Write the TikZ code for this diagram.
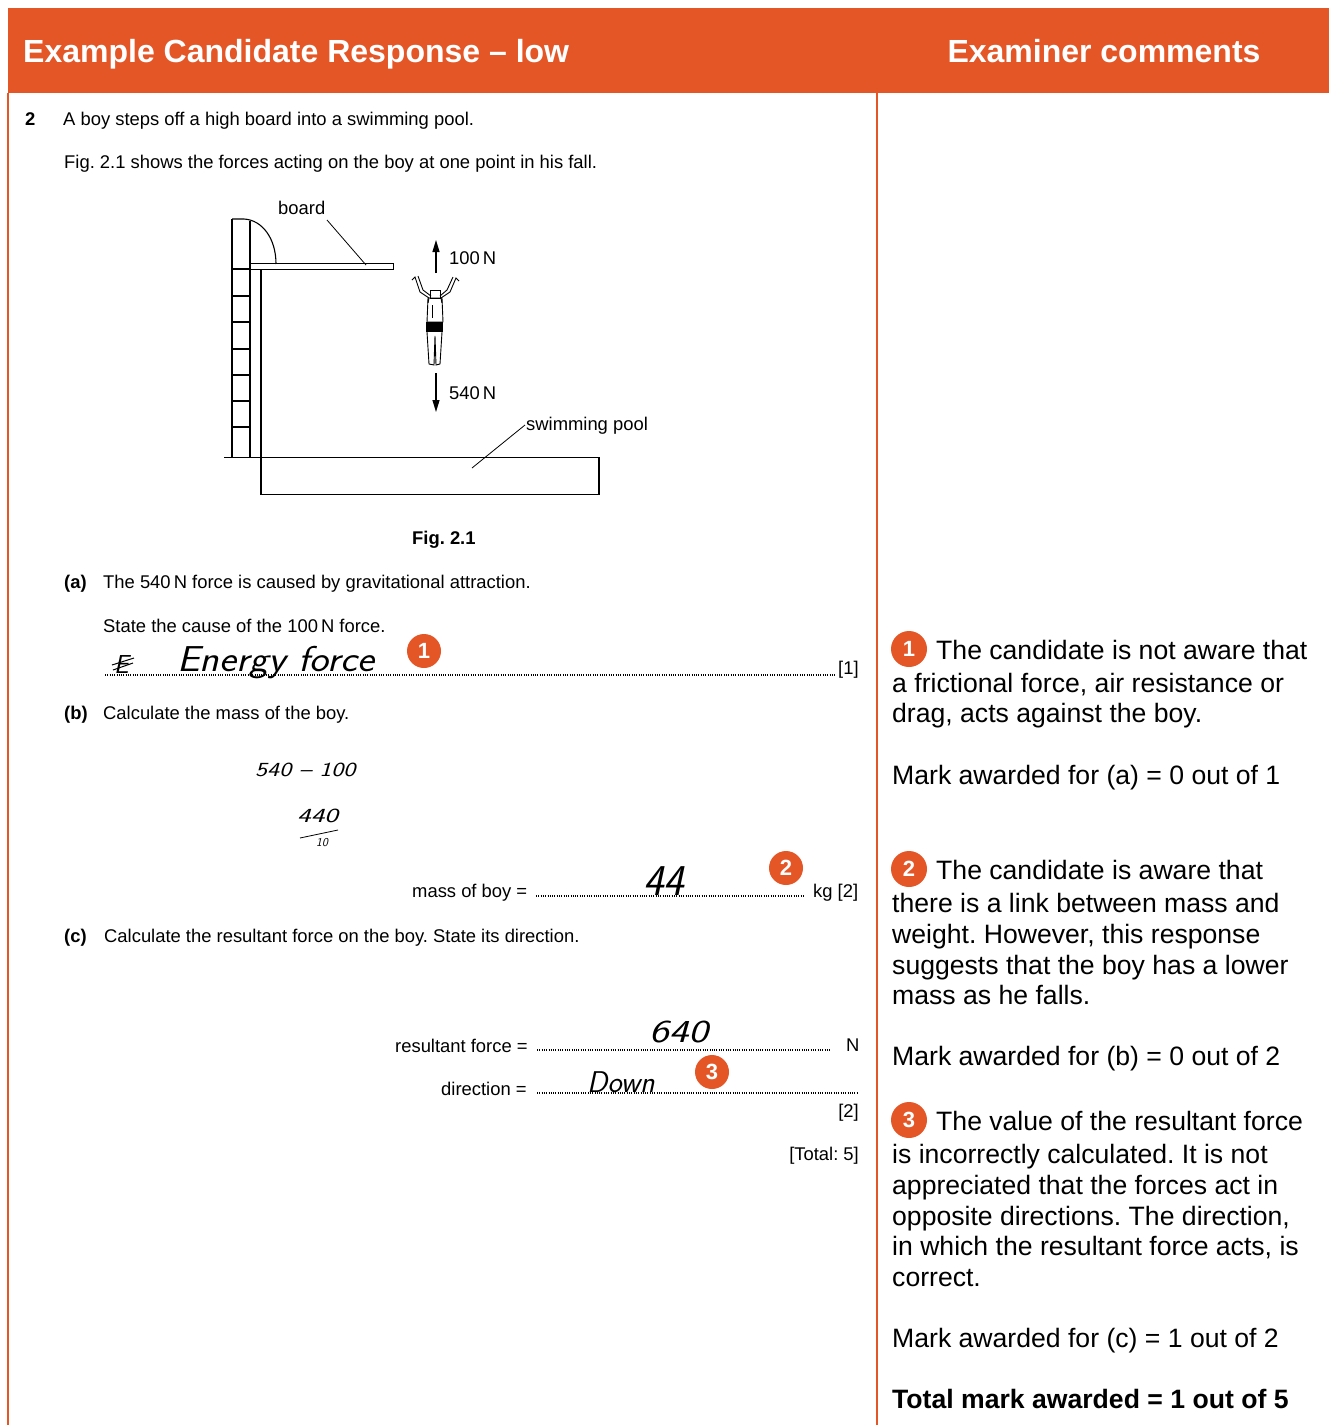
\documentclass[tikz,border=0pt]{standalone}
\usepackage{fontspec}
\setmainfont{Liberation Sans}
\newfontfamily\examfont{Liberation Sans}
\usetikzlibrary{arrows.meta}
\definecolor{cieorange}{RGB}{229,86,39}
\frenchspacing
\begin{document}
\frenchspacing
\begin{tikzpicture}[x=1pt,y=-1pt,
  hdrtext/.style={font=\fontsize{32}{36}\selectfont\bfseries, text=white, inner sep=0, anchor=base west},
  cmt/.style={font=\fontsize{26.6}{30}\selectfont, anchor=base west, inner sep=0},
  exnorm/.style={font=\examfont\fontsize{18.4}{21}\selectfont, anchor=base west, inner sep=0},
  exbold/.style={font=\examfont\bfseries\fontsize{18.4}{21}\selectfont, anchor=base west, inner sep=0},
  hwr/.style={font=\sffamily\itshape\fontsize{#1}{#1}\selectfont, anchor=base west, inner sep=0},
  badge/.style={circle, fill=cieorange, text=white, font=\bfseries\fontsize{22}{22}\selectfont, minimum size=#1, inner sep=0},
  badge/.default=34pt,
  dotline/.style={dash pattern=on 1pt off 1.3pt, line width=1.1pt},
  figline/.style={line width=1.1pt, black},
  force/.style={line width=1.2pt, -{Triangle[length=12pt,width=7pt]}}
]
\useasboundingbox (0,0) rectangle (1329,1425);
% frame
\fill[cieorange] (8,8) rectangle (1329,93);
\draw[cieorange, line width=2pt] (8,93) -- (8,1425);
\draw[cieorange, line width=2pt] (876.5,93) -- (876.5,1425);
\node[hdrtext] (h1) at (23,62) {Example Candidate Response – low};
\node[hdrtext, anchor=base] (h2) at (1104,62) {Examiner comments};

% question text
\node[exbold] (q2) at (25,125) {2};
\node[exnorm] (t1) at (63,125) {A boy steps off a high board into a swimming pool.};
\node[exnorm] (t2) at (64,168) {Fig. 2.1 shows the forces acting on the boy at one point in his fall.};

% figure
\draw[figline] (232,219) -- (232,458);
\draw[figline] (250,221) -- (250,458);
\foreach \yy in {269,296,322,349,375,401,427} \draw[figline] (232,\yy) -- (250,\yy);
\draw[figline] (232,219) -- (244,219) .. controls (262,220) and (276,238) .. (276,264);
\draw[figline] (250,263.5) rectangle (393.5,269.5);
\draw[figline] (261,269.5) -- (261,495);
\draw[figline] (224,457.5) -- (600,457.5);
\draw[figline] (261,494.5) -- (599,494.5) -- (599,457.5);
\node[exnorm] (board) at (278,214) {board};
\coordinate (boardtip) at (366,265);
\draw[line width=0.8pt] (327,220) -- (boardtip);
\node[exnorm] (pool) at (526,430) {swimming pool};
\coordinate (pooltip) at (472,468);
\draw[line width=0.8pt] (525,425) -- (pooltip);
% forces
\coordinate (upS) at (436,273);
\coordinate (upE) at (436,240);
\draw[force] (upS) -- (upE);
\node[exnorm] (f100) at (449,264) {100\,N};
\coordinate (dnS) at (436,373);
\coordinate (dnE) at (436,412);
\draw[force] (dnS) -- (dnE);
\node[exnorm] (f540) at (449,399) {540\,N};
% boy
\begin{scope}[line width=0.9pt]
\draw (412,280) -- (415,277) -- (420,292) -- (429,298) -- (428,303);
\draw (418,276) -- (423,290) -- (431,296);
\draw (459,281) -- (456,278) -- (450,292) -- (441,298) -- (442,303);
\draw (453,277) -- (447,290) -- (440,296);
\draw (430.5,290) rectangle (440.5,298);
\draw (428,298) -- (427,322) -- (443,322) -- (442,298) -- cycle;
\draw (432,305) -- (432,318);
\fill (426,322) rectangle (443,332);
\draw (427,332) -- (429,364) -- (434,365) -- (435,336) -- (436,365) -- (440,364) -- (442,332);
\end{scope}
\node[exbold] (figcap) at (412,544) {Fig. 2.1};

% (a)
\node[exbold] (pa) at (64,588) {(a)};
\node[exnorm] (ta1) at (103,588) {The 540\,N force is caused by gravitational attraction.};
\node[exnorm] (ta2) at (103,632) {State the cause of the 100\,N force.};
\node[hwr=26] (scrib) at (114,673) {E};
\draw[line width=1pt] (112,665) -- (134,658);
\draw[line width=1pt] (113,670) -- (133,663);
\node[hwr=36] (ans1) at (177,671) {\scalebox{1.12}[1]{Energy force}};
\draw[dotline] (105,675) -- (836,675);
\node[exnorm] (m1) at (838,674) {[1]};
\node[badge] (c1) at (424,651) {1};

% (b)
\node[exbold] (pb) at (64,719) {(b)};
\node[exnorm] (tb1) at (103,719) {Calculate the mass of the boy.};
\node[hwr=20] (w1) at (255,776) {\scalebox{1.28}[1]{540 – 100}};
\node[hwr=20] (w2) at (297,822) {\scalebox{1.45}[1]{440}};
\draw[line width=0.8pt] (300,838) -- (338,830);
\node[hwr=12] (w3) at (316,846) {10};
\node[exnorm] (mb) at (412,897) {mass of boy =};
\draw[dotline] (536,896) -- (803,896);
\node[hwr=44] (ans2) at (643,895) {44};
\node[badge] (c2) at (786,868) {2};
\node[exnorm] (kg) at (813,897) {kg [2]};

% (c)
\node[exbold] (pc) at (64,942) {(c)};
\node[exnorm] (tc1) at (104,942) {Calculate the resultant force on the boy. State its direction.};
\node[exnorm] (rf) at (395,1052) {resultant force =};
\draw[dotline] (537,1050) -- (830,1050);
\node[exnorm] (nn) at (846,1051) {N};
\node[hwr=32] (ans3) at (649,1042) {\scalebox{1.3}[1]{640}};
\node[exnorm] (dir) at (441,1095) {direction =};
\draw[dotline] (537,1093) -- (857,1093);
\node[hwr=30] (ans4) at (587,1092) {Down};
\node[badge] (c3) at (712,1072) {3};
\node[exnorm, anchor=base east] (m2) at (859,1117) {[2]};
\node[exnorm, anchor=base east] (tot) at (859,1160) {[Total: 5]};

% comments
\node[badge=36pt] (k1) at (909,649) {1};
\node[cmt] (l1) at (936,659) {The candidate is not aware that};
\node[cmt] (l2) at (892,692) {a frictional force, air resistance or};
\node[cmt] (l3) at (892,722) {drag, acts against the boy.};
\node[cmt] (l4) at (892,784) {Mark awarded for (a) = 0 out of 1};
\node[badge=36pt] (k2) at (909,869) {2};
\node[cmt] (l5) at (936,879) {The candidate is aware that};
\node[cmt] (l6) at (892,912) {there is a link between mass and};
\node[cmt] (l7) at (892,943) {weight. However, this response};
\node[cmt] (l8) at (892,974) {suggests that the boy has a lower};
\node[cmt] (l9) at (892,1004) {mass as he falls.};
\node[cmt] (l10) at (892,1065) {Mark awarded for (b) = 0 out of 2};
\node[badge=36pt] (k3) at (909,1120) {3};
\node[cmt] (l11) at (936,1130) {The value of the resultant force};
\node[cmt] (l12) at (892,1163) {is incorrectly calculated. It is not};
\node[cmt] (l13) at (892,1194) {appreciated that the forces act in};
\node[cmt] (l14) at (892,1225) {opposite directions. The direction,};
\node[cmt] (l15) at (892,1255) {in which the resultant force acts, is};
\node[cmt] (l16) at (892,1286) {correct.};
\node[cmt] (l17) at (892,1347) {Mark awarded for (c) = 1 out of 2};
\node[cmt, font=\fontsize{26.6}{30}\selectfont\bfseries] (l18) at (892,1408) {Total mark awarded = 1 out of 5};
\end{tikzpicture}
\end{document}
